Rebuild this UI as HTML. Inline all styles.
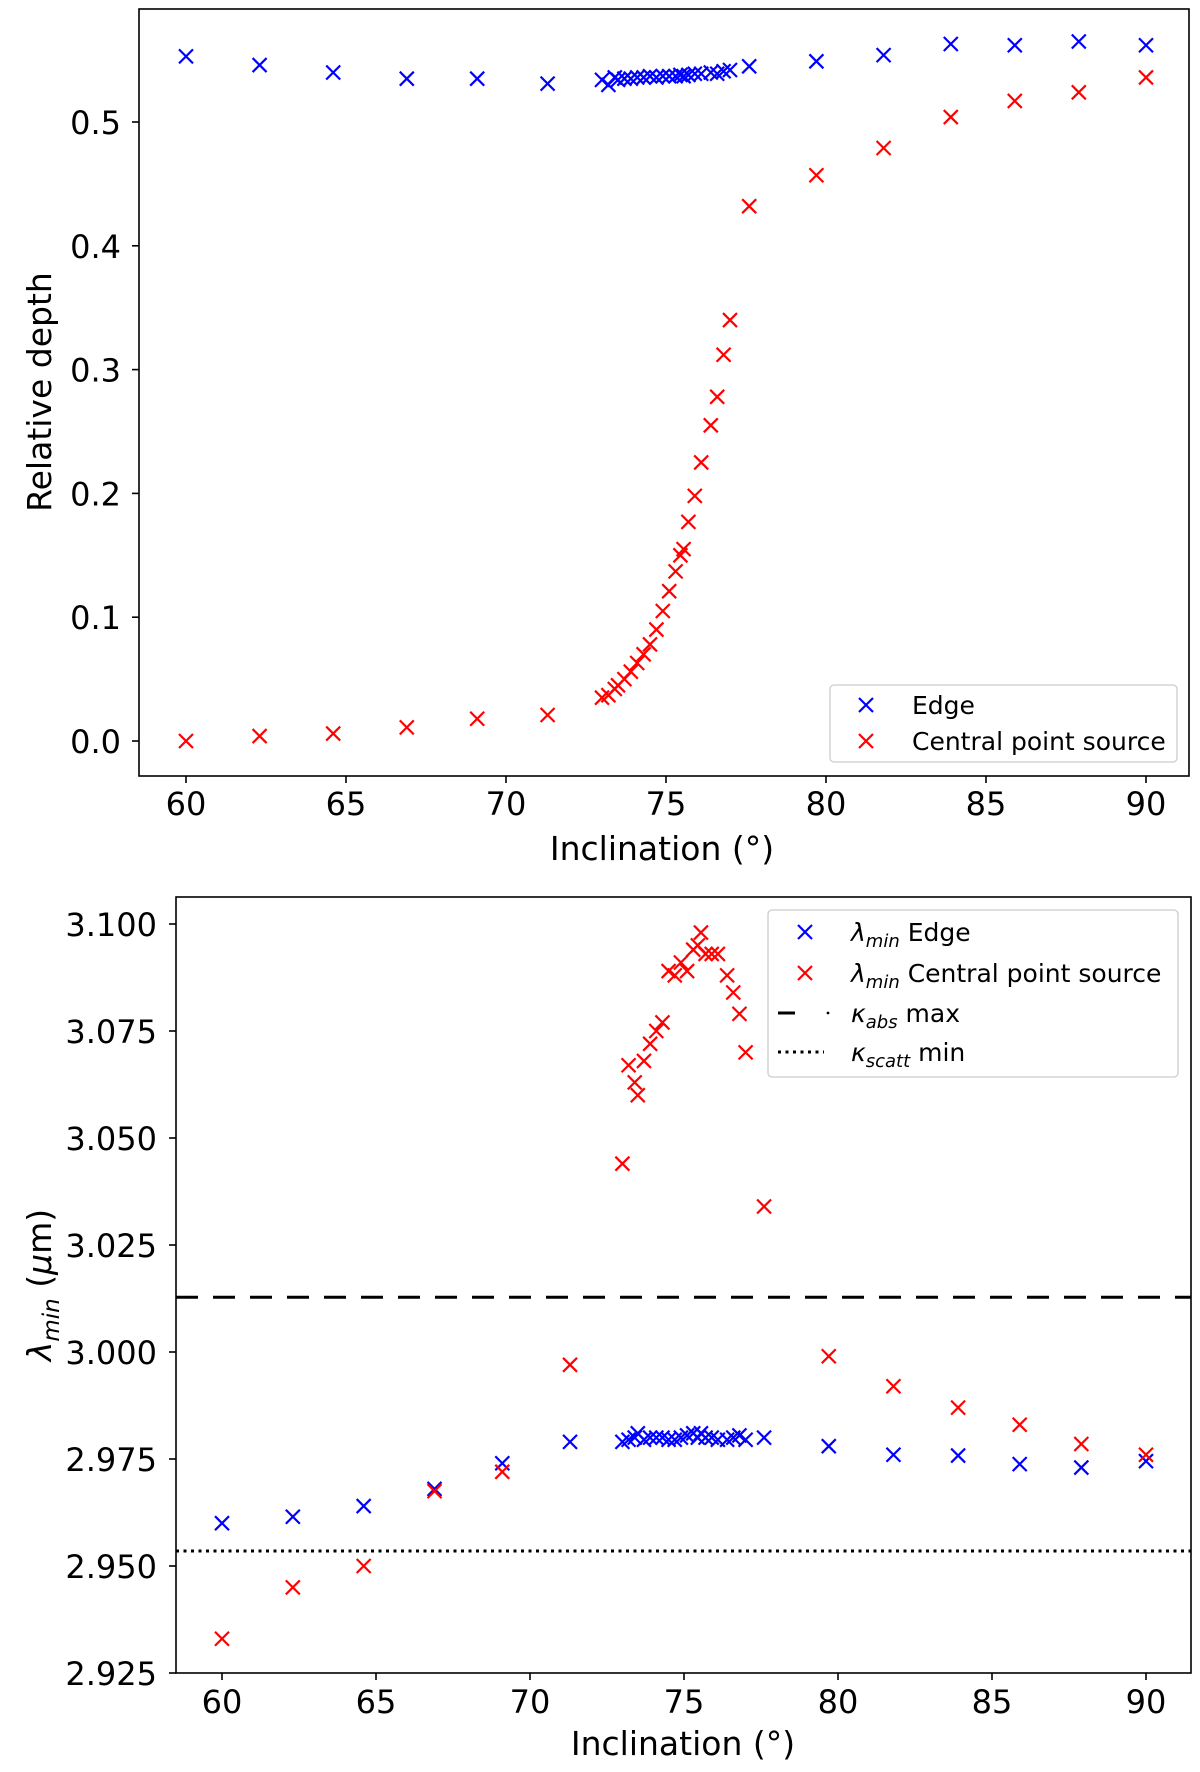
<!DOCTYPE html>
<html><head><meta charset="utf-8"><style>
body{margin:0;background:#fff;}
svg{display:block;font-family:"DejaVu Sans","Liberation Sans",sans-serif;}
</style></head><body>
<svg id="chart" width="1200" height="1772" viewBox="0 0 1200 1772" xmlns="http://www.w3.org/2000/svg">
<g id="top"></g>
<g id="bot"></g>
</svg>
<script>
// ---- data ----
const incl = [60,62.3,64.6,66.9,69.1,71.3,73.0,73.2,73.4,73.5,73.7,73.9,74.1,74.3,74.5,74.7,74.9,75.1,75.3,75.45,75.55,75.7,75.9,76.1,76.4,76.6,76.8,77.0,77.6,79.7,81.8,83.9,85.9,87.9,90];
const depthEdge = [0.553,0.546,0.540,0.535,0.535,0.531,0.534,0.530,0.536,0.534,0.535,0.535,0.536,0.536,0.537,0.536,0.537,0.537,0.537,0.538,0.537,0.538,0.539,0.539,0.540,0.539,0.541,0.542,0.545,0.549,0.554,0.563,0.562,0.565,0.562];
const depthCentral = [0.000,0.004,0.006,0.011,0.018,0.021,0.035,0.037,0.042,0.045,0.050,0.056,0.063,0.070,0.078,0.090,0.105,0.121,0.137,0.150,0.155,0.177,0.198,0.225,0.255,0.278,0.312,0.340,0.432,0.457,0.479,0.504,0.517,0.524,0.536];
const lamEdge = [2.960,2.9615,2.964,2.968,2.974,2.979,2.979,2.9795,2.980,2.981,2.9795,2.980,2.980,2.980,2.9795,2.9795,2.980,2.9805,2.981,2.980,2.981,2.980,2.980,2.9795,2.9795,2.980,2.9805,2.9795,2.980,2.978,2.976,2.9758,2.9738,2.973,2.9745];
const lamCentral = [2.933,2.945,2.950,2.9675,2.972,2.997,3.044,3.067,3.063,3.060,3.068,3.072,3.075,3.077,3.089,3.088,3.091,3.089,3.094,3.095,3.098,3.093,3.093,3.093,3.088,3.084,3.079,3.070,3.034,2.999,2.992,2.987,2.983,2.9785,2.976];
const xTicks = [60,65,70,75,80,85,90];
const yTicksTop = [0.0,0.1,0.2,0.3,0.4,0.5];
const yTicksBot = [2.925,2.950,2.975,3.000,3.025,3.050,3.075,3.100];
const kAbsMax = 3.0128;
const kScattMin = 2.9535;

const NS="http://www.w3.org/2000/svg";
function mk(parent,tag,attrs,text){const e=document.createElementNS(NS,tag);for(const k in attrs)e.setAttribute(k,attrs[k]);if(text!==undefined)e.textContent=text;parent.appendChild(e);return e;}
function cross(g,x,y,color){
  const p=mk(g,'path',{d:`M${x-7},${y-7}L${x+7},${y+7}M${x-7},${y+7}L${x+7},${y-7}`,stroke:color,'stroke-width':2.2,fill:'none'});
  return p;
}

// ---- top panel ----
const T=document.getElementById('top');
const tx=v=>186+(v-60)*32;
const ty=v=>741-v*1238;
let e;
e=mk(T,'rect',{x:139,y:9,width:1050,height:767,fill:'none',stroke:'#000','stroke-width':1.6});


xTicks.forEach(v=>{
  e=mk(T,'line',{x1:tx(v),x2:tx(v),y1:776,y2:783,stroke:'#000','stroke-width':1.6});
  e=mk(T,'text',{x:tx(v),y:815,'font-size':32,'text-anchor':'middle'},String(v));
  
  
});
yTicksTop.forEach(v=>{
  e=mk(T,'line',{x1:132,x2:139,y1:ty(v),y2:ty(v),stroke:'#000','stroke-width':1.6});
  e=mk(T,'text',{x:121,y:ty(v)+12,'font-size':32,'text-anchor':'end'},v.toFixed(1));
  
  
});
incl.forEach((v,i)=>{
  e=cross(T,tx(v),ty(depthEdge[i]),'#0000ff');
  
  
});
incl.forEach((v,i)=>{
  e=cross(T,tx(v),ty(depthCentral[i]),'#ff0000');
  
  
});
e=mk(T,'text',{x:662,y:860,'font-size':33,'text-anchor':'middle'},'Inclination (°)');


e=mk(T,'text',{x:0,y:0,'font-size':33,'text-anchor':'middle',transform:'translate(51,392) rotate(-90)'},'Relative depth');


const lgT=mk(T,'g',{});


mk(lgT,'rect',{x:830,y:685,width:347,height:77,rx:4,fill:'#fff','fill-opacity':0.8,stroke:'#ccc','stroke-width':1.3});
cross(lgT,866,705,'#0000ff');
mk(lgT,'text',{x:912,y:714,'font-size':25},'Edge');
cross(lgT,866,741,'#ff0000');
mk(lgT,'text',{x:912,y:750,'font-size':25},'Central point source');

// ---- bottom panel ----
const B=document.getElementById('bot');
const bx=v=>222+(v-60)*30.8;
const by=v=>1673-(v-2.925)*4280;
e=mk(B,'rect',{x:176,y:897,width:1015,height:776,fill:'none',stroke:'#000','stroke-width':1.6});


xTicks.forEach(v=>{
  e=mk(B,'line',{x1:bx(v),x2:bx(v),y1:1673,y2:1680,stroke:'#000','stroke-width':1.6});
  e=mk(B,'text',{x:bx(v),y:1713,'font-size':32,'text-anchor':'middle'},String(v));
  
  
});
yTicksBot.forEach(v=>{
  e=mk(B,'line',{x1:169,x2:176,y1:by(v),y2:by(v),stroke:'#000','stroke-width':1.6});
  e=mk(B,'text',{x:157,y:by(v)+12,'font-size':32,'text-anchor':'end'},v.toFixed(3));
  
  
});
e=mk(B,'line',{x1:176,x2:1191,y1:by(kAbsMax),y2:by(kAbsMax),stroke:'#000','stroke-width':3,'stroke-dasharray':'22 15'});


e=mk(B,'line',{x1:176,x2:1191,y1:by(kScattMin),y2:by(kScattMin),stroke:'#000','stroke-width':3,'stroke-dasharray':'3 4.5'});


incl.forEach((v,i)=>{
  e=cross(B,bx(v),by(lamEdge[i]),'#0000ff');
  
  
});
incl.forEach((v,i)=>{
  e=cross(B,bx(v),by(lamCentral[i]),'#ff0000');
  
  
});
e=mk(B,'text',{x:683,y:1755,'font-size':33,'text-anchor':'middle'},'Inclination (°)');


e=mk(B,'text',{x:0,y:0,'font-size':33,'text-anchor':'middle',transform:'translate(51,1285) rotate(-90)'});


mk(e,'tspan',{'font-style':'italic'},'λ');
mk(e,'tspan',{'font-style':'italic','font-size':23,dy:8},'min');
mk(e,'tspan',{dy:-8},' (');
mk(e,'tspan',{'font-style':'italic'},'μ');
mk(e,'tspan',{},'m)');
const lgB=mk(B,'g',{});


mk(lgB,'rect',{x:768,y:910,width:410,height:167,rx:4,fill:'#fff','fill-opacity':0.8,stroke:'#ccc','stroke-width':1.3});
const rows=[932,973,1013,1052];
cross(lgB,805,rows[0],'#0000ff');
cross(lgB,805,rows[1],'#ff0000');
mk(lgB,'line',{x1:778,x2:795,y1:rows[2],y2:rows[2],stroke:'#000','stroke-width':3});
mk(lgB,'circle',{cx:828,cy:rows[2],r:1.4,fill:'#000'});
mk(lgB,'line',{x1:778,x2:824,y1:rows[3],y2:rows[3],stroke:'#000','stroke-width':3,'stroke-dasharray':'3 4.5'});
const labs=[['λ','min',' Edge'],['λ','min',' Central point source'],['κ','abs',' max'],['κ','scatt',' min']];
labs.forEach((l,i)=>{
  const t=mk(lgB,'text',{x:851,y:rows[i]+9,'font-size':25});
  mk(t,'tspan',{'font-style':'italic'},l[0]);
  mk(t,'tspan',{'font-style':'italic','font-size':18,dy:6},l[1]);
  mk(t,'tspan',{dy:-6},l[2]);
});
</script>
</body></html>
